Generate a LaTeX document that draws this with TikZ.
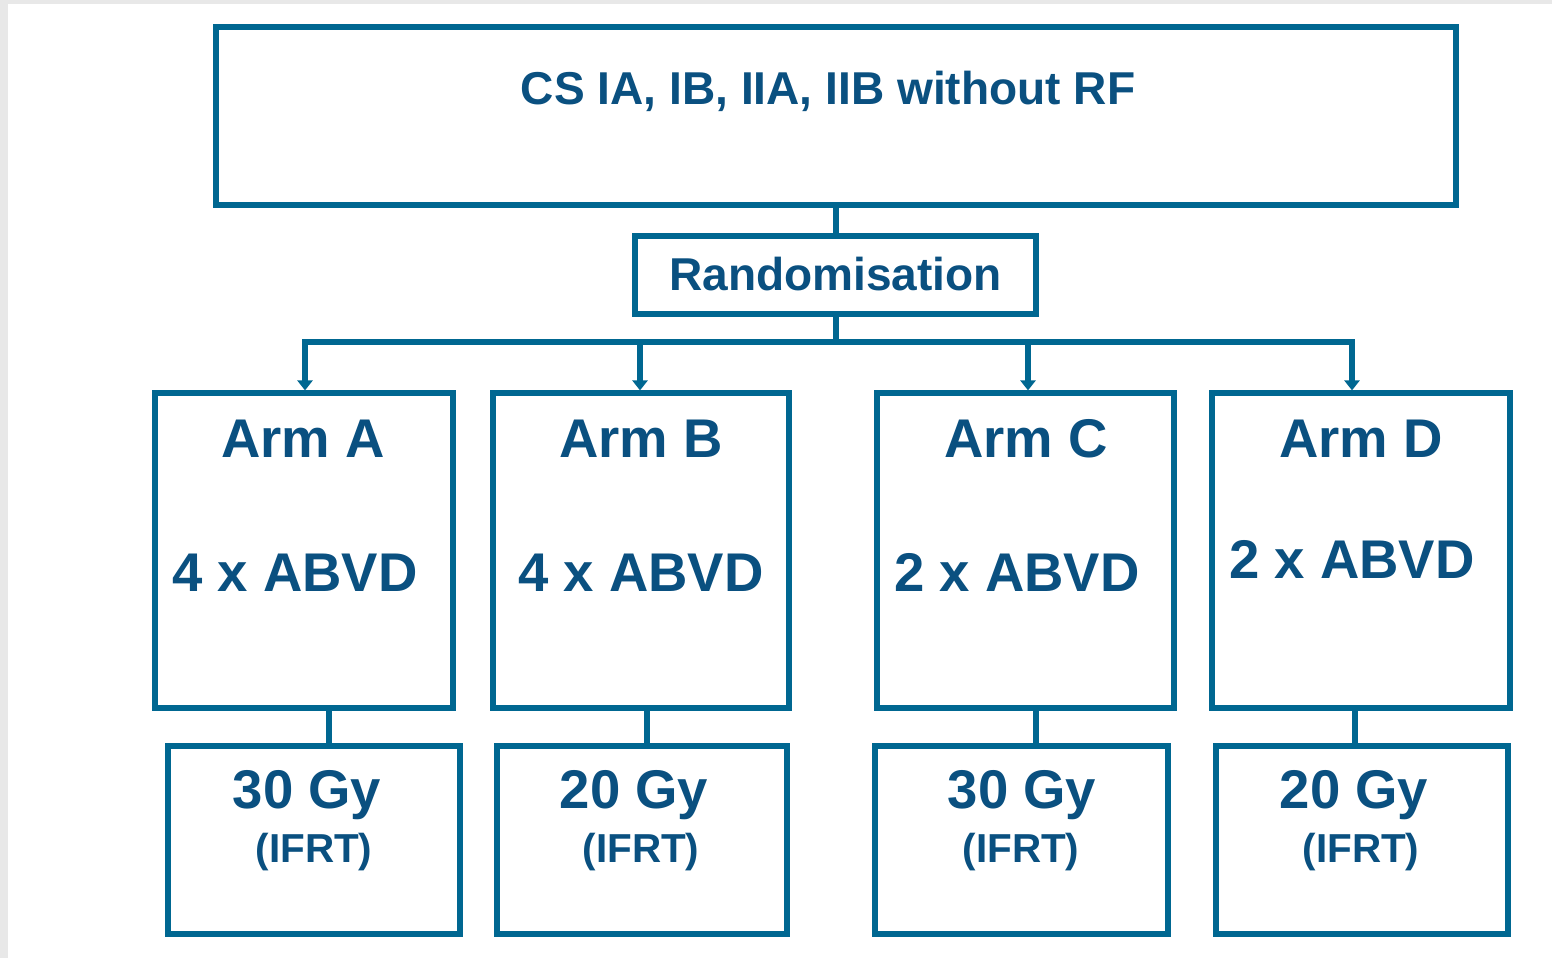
\documentclass[tikz,border=0pt]{standalone}
\usepackage{fontspec}
\setmainfont{Liberation Sans}
\usetikzlibrary{arrows.meta,positioning}
\definecolor{boxblue}{RGB}{0,103,145}
\definecolor{txtblue}{RGB}{10,80,128}
\definecolor{pagegray}{RGB}{232,232,232}
\begin{document}
\begin{tikzpicture}[x=0.01cm, y=-0.01cm,
    box/.style={draw=boxblue, line width=1.7pt, fill=white, inner sep=0pt},
    link/.style={draw=boxblue, line width=1.7pt},
    arr/.style={link, -{Triangle[width=0.15cm,length=0.1cm]}},
    bigtxt/.style={text=txtblue, anchor=base, inner sep=0pt, font=\bfseries\fontsize{13.1}{15}\selectfont},
    armtxt/.style={text=txtblue, anchor=base, inner sep=0pt, font=\bfseries\fontsize{15.5}{18}\selectfont},
    smalltxt/.style={text=txtblue, anchor=base, inner sep=0pt, font=\bfseries\fontsize{11.5}{14}\selectfont}]

        % Page frame
        \fill[pagegray] (0,0) rectangle (1552,958);
        \fill[white] (8,4) rectangle (1552,958);

        % Stage box and randomisation
        \node[box, minimum width=12.4cm, minimum height=1.78cm] (stage) at (836,116) {};
        \node[bigtxt] (stagetxt) at (828,105) {CS IA, IB, IIA, IIB without RF};
        \node[box, minimum width=4.01cm, minimum height=0.78cm] (rand) at (835.5,275) {};
        \node[bigtxt] (randtxt) at (835.5,291) {Randomisation};

        % Arm boxes
        \node[box, minimum width=2.98cm, minimum height=3.14cm] (armA) at (304,550.5) {};
        \node[box, minimum width=2.96cm, minimum height=3.14cm] (armB) at (641,550.5) {};
        \node[box, minimum width=2.97cm, minimum height=3.14cm] (armC) at (1025.5,550.5) {};
        \node[box, minimum width=2.98cm, minimum height=3.14cm] (armD) at (1361,550.5) {};

        \node[armtxt] (armAname) at (303,457) {Arm A};
        \node[armtxt] (armAchemo) at (295,591) {4 x ABVD};
        \node[armtxt] (armBname) at (641,457) {Arm B};
        \node[armtxt] (armBchemo) at (641,591) {4 x ABVD};
        \node[armtxt] (armCname) at (1026,457) {Arm C};
        \node[armtxt] (armCchemo) at (1017,591) {2 x ABVD};
        \node[armtxt] (armDname) at (1361,457) {Arm D};
        \node[armtxt] (armDchemo) at (1352,578) {2 x ABVD};

        % Dose boxes
        \node[box, minimum width=2.92cm, minimum height=1.88cm] (doseA) at (314,840) {};
        \node[box, minimum width=2.90cm, minimum height=1.88cm] (doseB) at (642,840) {};
        \node[box, minimum width=2.92cm, minimum height=1.88cm] (doseC) at (1021.5,840) {};
        \node[box, minimum width=2.91cm, minimum height=1.88cm] (doseD) at (1362,840) {};

        \node[armtxt] (doseAgy) at (307,808) {30 Gy};
        \node[smalltxt] (doseArt) at (314,862) {(IFRT)};
        \node[armtxt] (doseBgy) at (634,808) {20 Gy};
        \node[smalltxt] (doseBrt) at (641,862) {(IFRT)};
        \node[armtxt] (doseCgy) at (1022,808) {30 Gy};
        \node[smalltxt] (doseCrt) at (1021,862) {(IFRT)};
        \node[armtxt] (doseDgy) at (1354,808) {20 Gy};
        \node[smalltxt] (doseDrt) at (1361,862) {(IFRT)};

        % Connectors
        \draw[link] (stage.south) -- (stage.south |- rand.north);
        \coordinate (split) at ([yshift=-0.25cm]rand.south);
        \draw[link] (rand.south) -- (split);
        \draw[arr] (split) -| ([xshift=0.01cm]armA.north);
        \draw[arr] (split) -| ([xshift=-0.01cm]armB.north);
        \draw[arr] (split) -| ([xshift=0.025cm]armC.north);
        \draw[arr] (split) -| ([xshift=-0.09cm]armD.north);

        \draw[link] ([xshift=0.25cm]armA.south) -- ([xshift=0.25cm]armA.south |- doseA.north);
        \draw[link] ([xshift=0.06cm]armB.south) -- ([xshift=0.06cm]armB.south |- doseB.north);
        \draw[link] ([xshift=0.105cm]armC.south) -- ([xshift=0.105cm]armC.south |- doseC.north);
        \draw[link] ([xshift=-0.06cm]armD.south) -- ([xshift=-0.06cm]armD.south |- doseD.north);
\end{tikzpicture}
\end{document}
